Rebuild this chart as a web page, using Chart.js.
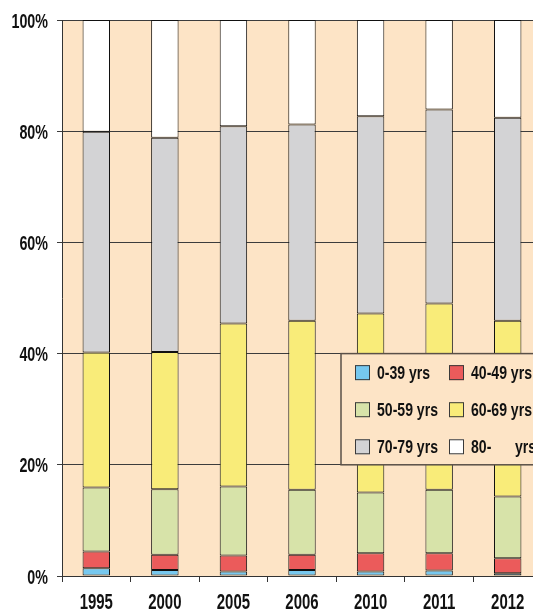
<!DOCTYPE html>
<html>
<head>
<meta charset="utf-8">
<script src="https://cdn.jsdelivr.net/npm/chart.js@4/dist/chart.umd.min.js"></script>
<style>
  html, body { margin: 0; padding: 0; background: #ffffff; overflow: hidden; }
  #wrap { width: 542px; height: 610px; }
</style>
</head>
<body>
<div id="wrap"><canvas id="c" width="542" height="610"></canvas></div>
<script>
// Age structure, share of total (%) per year
const years = ['1995', '2000', '2005', '2006', '2010', '2011', '2012'];
const ageLabels = ['0-39 yrs', '40-49 yrs', '50-59 yrs', '60-69 yrs', '70-79 yrs', '80-      yrs'];
const age0_39  = [1.4, 1.1, 0.8, 1.1, 0.8, 1.0, 0.5];
const age40_49 = [3.0, 2.7, 2.9, 2.7, 3.3, 3.1, 2.7];
const age50_59 = [11.5, 11.8, 12.4, 11.7, 10.9, 11.4, 11.1];
const age60_69 = [24.3, 24.7, 29.3, 30.4, 32.2, 33.5, 31.6];
const age70_79 = [39.7, 38.5, 35.5, 35.3, 35.5, 34.9, 36.5];
const age80up  = [20.1, 21.2, 19.1, 18.8, 17.3, 16.1, 17.6];
const yTicks = [0, 20, 40, 60, 80, 100];

const colors = ['#76C8EF', '#EB5B5B', '#D7E3A9', '#F9EC79', '#D3D3D5', '#FFFFFF'];
const series = [age0_39, age40_49, age50_59, age60_69, age70_79, age80up];
const PEACH = '#FDE4C6';
const FONT = "'Liberation Sans', Arial, sans-serif";

// Condensed bold text: a regular bold face squeezed horizontally
function narrowText(ctx, text, x, y, align, size, squeeze) {
  ctx.save();
  ctx.font = 'bold ' + size + 'px ' + FONT;
  ctx.textAlign = align;
  ctx.textBaseline = 'alphabetic';
  ctx.translate(x, y);
  ctx.scale(squeeze, 1);
  ctx.fillText(text, 0, 0);
  ctx.restore();
}

// Peach plot area behind everything
const plotBackground = {
  id: 'plotBackground',
  beforeDraw(chart) {
    const { ctx, chartArea: a } = chart;
    ctx.save();
    ctx.fillStyle = PEACH;
    ctx.fillRect(a.left, a.top, a.right - a.left, a.bottom - a.top);
    ctx.restore();
  }
};

// Axis tick labels in a narrow face
const axisLabels = {
  id: 'axisLabels',
  afterDraw(chart) {
    const { ctx, scales } = chart;
    ctx.save();
    ctx.fillStyle = '#111';
    scales.y.ticks.forEach(t => {
      const py = scales.y.getPixelForValue(t.value);
      narrowText(ctx, t.value + '%', scales.y.right - 14, py + 7.5, 'right', 21, 0.68);
    });
    chart.data.labels.forEach((lab, i) => {
      const px = scales.x.getPixelForValue(i);
      narrowText(ctx, lab, px, scales.x.top + 33, 'center', 22, 0.68);
    });
    ctx.restore();
  }
};

// Boxed legend sitting between the 20% and 40% gridlines
const boxLegend = {
  id: 'boxLegend',
  afterDatasetsDraw(chart) {
    const { ctx, chartArea: a, scales } = chart;
    const top = scales.y.getPixelForValue(40);
    const bottom = scales.y.getPixelForValue(20);
    const left = a.left + 279;
    const right = a.right + 2;
    ctx.save();
    ctx.fillStyle = PEACH;
    ctx.fillRect(left, top, right - left, bottom - top);
    ctx.strokeStyle = '#5a5048';
    ctx.lineWidth = 1.5;
    ctx.strokeRect(left, top, right - left, bottom - top);
    const rowH = (bottom - top) / 3;
    chart.data.datasets.forEach((ds, i) => {
      const col = i % 2, row = Math.floor(i / 2);
      const sx = left + 14 + col * 94;
      const cy = top + rowH * (row + 0.5) + 0.5;
      ctx.fillStyle = ds.backgroundColor;
      ctx.fillRect(sx, cy - 7.5, 15, 15);
      ctx.strokeStyle = '#3a3a3a';
      ctx.lineWidth = 1;
      ctx.strokeRect(sx + 0.5, cy - 7, 14, 14);
      ctx.fillStyle = '#111';
      const parts = ds.label.split(/\s{2,}/);
      narrowText(ctx, parts[0], sx + 22, cy + 6.5, 'left', 18.5, 0.76);
      if (parts[1]) narrowText(ctx, parts[1], sx + 66, cy + 6.5, 'left', 18.5, 0.76);
    });
    ctx.restore();
  }
};

new Chart(document.getElementById('c'), {
  type: 'bar',
  data: {
    labels: years,
    datasets: series.map((vals, i) => ({
      label: ageLabels[i],
      data: vals,
      backgroundColor: colors[i],
      borderColor: '#111',
      borderWidth: 1,
      borderSkipped: false,
      barPercentage: 0.4,
      categoryPercentage: 1.0
    }))
  },
  options: {
    responsive: false,
    devicePixelRatio: 1,
    animation: false,
    layout: { padding: { top: 20, left: 0, right: 0, bottom: 0 } },
    plugins: { legend: { display: false }, tooltip: { enabled: false } },
    scales: {
      x: {
        stacked: true,
        grid: { drawOnChartArea: false, offset: true, color: '#333', tickLength: 6, lineWidth: 1 },
        border: { color: '#333', width: 1 },
        ticks: { display: false },
        afterFit(s) { s.height = 34; }
      },
      y: {
        stacked: true,
        min: 0,
        max: 100,
        afterBuildTicks(s) { s.ticks = yTicks.map(v => ({ value: v })); },
        grid: { color: '#3c3c3c', tickLength: 5, lineWidth: 1 },
        border: { color: '#333', width: 1 },
        ticks: { display: false },
        afterFit(s) { s.width = 62; }
      }
    }
  },
  plugins: [plotBackground, axisLabels, boxLegend]
});
</script>
</body>
</html>
